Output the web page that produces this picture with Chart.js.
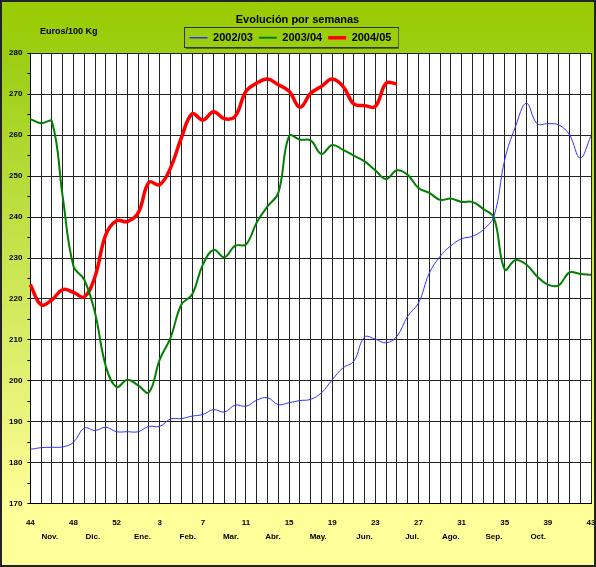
<!DOCTYPE html>
<html>
<head>
<meta charset="utf-8">
<script src="https://cdn.jsdelivr.net/npm/chart.js@4.4.1/dist/chart.umd.min.js"></script>
<style>
  html, body { margin: 0; padding: 0; background: #fff; }
  #wrap { width: 596px; height: 567px; }
</style>
</head>
<body>
<div id="wrap"><canvas id="chart" width="596" height="567"></canvas></div>
<script>
// semanas 44..53 y 1..43
const weekLabels = ['44','45','46','47','48','49','50','51','52','53',
  '1','2','3','4','5','6','7','8','9','10','11','12','13','14','15','16','17','18','19','20',
  '21','22','23','24','25','26','27','28','29','30','31','32','33','34','35','36','37','38','39','40',
  '41','42','43'];

const monthLabels = ['Nov.','Dic.','Ene.','Feb.','Mar.','Abr.','May.','Jun.','Jul.','Ago.','Sep.','Oct.'];
// where each month name sits, in week-index units
const monthTicks = [1.8, 5.8, 10.4, 14.6, 18.6, 22.5, 26.7, 31, 35.4, 39, 43, 47.1];

const serie0203 = [183.3, 183.7, 183.8, 183.9, 185.0, 188.5, 187.9, 188.7, 187.6, 187.6,
  187.6, 188.9, 188.9, 190.7, 190.8, 191.4, 191.8, 193.0, 192.4, 194.1,
  193.8, 195.3, 195.9, 194.2, 194.7, 195.2, 195.5, 197.1, 200.3, 203.2,
  204.8, 210.7, 210.2, 209.3, 210.9, 215.8, 219.0, 226.3, 230.4, 233.0,
  234.7, 235.3, 236.9, 240.2, 254.0, 262.1, 267.8, 262.8, 262.8, 262.5,
  260.1, 254.4, 259.8];

const serie0304 = [263.9, 262.9, 263.3, 245.0, 228.0, 224.7, 216.6, 203.6, 198.5, 200.3,
  198.9, 197.2, 205.2, 210.5, 218.6, 221.1, 228.4, 232.0, 230.2, 233.0,
  233.3, 238.7, 242.6, 245.9, 259.8, 258.9, 258.7, 255.4, 257.6, 256.4,
  255.0, 253.6, 251.4, 249.3, 251.4, 250.3, 247.1, 245.9, 244.2, 244.5,
  243.7, 243.7, 242.0, 239.8, 227.2, 229.5, 228.4, 225.5, 223.5, 223.3,
  226.5, 226.1, 225.9];

const serie0405 = [223.5, 218.6, 219.8, 222.3, 221.6, 220.5, 225.5, 235.7, 239.1, 238.9,
  241.0, 248.5, 247.9, 252.0, 259.3, 265.2, 263.7, 265.7, 264.0, 264.6,
  270.7, 272.7, 273.7, 272.3, 270.7, 266.8, 270.2, 271.9, 273.7, 271.9,
  267.6, 267.2, 267.0, 272.7, 272.5];

const FONT = 'Liberation Sans, Arial, sans-serif';

const fondo = {
  id: 'fondo',
  afterLayout(chart) {
    // la leyenda va un poco a la izquierda del centro
    const lg = chart.legend;
    lg.left -= 7;
    lg.right -= 7;
    lg.legendHitBoxes.forEach(b => { b.left -= 7; });
  },
  beforeDraw(chart) {
    const { ctx, width, height, chartArea } = chart;
    ctx.save();
    const g = ctx.createLinearGradient(0, 0, 0, height);
    g.addColorStop(0, '#99CC00');
    g.addColorStop(0.1, '#9CCE14');
    g.addColorStop(0.9, '#FFFF99');
    g.addColorStop(1, '#FFFF99');
    ctx.fillStyle = g;
    ctx.fillRect(0, 0, width, height);
    ctx.fillStyle = '#fff';
    ctx.fillRect(chartArea.left, chartArea.top, chartArea.right - chartArea.left, chartArea.bottom - chartArea.top);
    ctx.restore();
  },
  afterDraw(chart) {
    const { ctx, width, height } = chart;
    ctx.save();
    // marco exterior
    ctx.strokeStyle = '#222';
    ctx.lineWidth = 2;
    ctx.strokeRect(1, 1, width - 2, height - 2);
    // marco de la leyenda
    const boxes = chart.legend.legendHitBoxes;
    if (boxes && boxes.length) {
      const l = Math.min(...boxes.map(b => b.left)) - 6;
      const r = Math.max(...boxes.map(b => b.left + b.width)) + 6;
      const t = Math.min(...boxes.map(b => b.top)) - 5;
      const bt = Math.max(...boxes.map(b => b.top + b.height)) + 4;
      ctx.lineWidth = 1;
      ctx.strokeStyle = '#333';
      ctx.strokeRect(Math.round(l) + 0.5, Math.round(t) + 0.5, Math.round(r - l), Math.round(bt - t));
      ctx.strokeStyle = '#556b00';
      ctx.beginPath();
      ctx.moveTo(Math.round(l) + 2, Math.round(bt) + 1.5);
      ctx.lineTo(Math.round(r) + 1.5, Math.round(bt) + 1.5);
      ctx.lineTo(Math.round(r) + 1.5, Math.round(t) + 2);
      ctx.stroke();
    }
    // unidad
    ctx.fillStyle = '#000';
    ctx.font = 'bold 9px ' + FONT;
    ctx.textAlign = 'left';
    ctx.textBaseline = 'middle';
    ctx.fillText('Euros/100 Kg', 40, 32);
    ctx.restore();
  }
};

new Chart(document.getElementById('chart'), {
  type: 'line',
  data: {
    labels: weekLabels,
    datasets: [
      { label: '2002/03', data: serie0203, borderColor: '#3333FF', backgroundColor: '#3333FF', borderWidth: 1, pointRadius: 0, tension: 0.4, fill: false },
      { label: '2003/04', data: serie0304, borderColor: '#008000', backgroundColor: '#008000', borderWidth: 2, pointRadius: 0, tension: 0.4, fill: false },
      { label: '2004/05', data: serie0405, borderColor: '#FF0000', backgroundColor: '#FF0000', borderWidth: 3.5, pointRadius: 0, tension: 0.4, fill: false }
    ]
  },
  options: {
    responsive: false,
    animation: false,
    layout: { padding: { left: 4, right: 5, top: 3, bottom: 20 } },
    plugins: {
      title: {
        display: true,
        text: 'Evolución por semanas',
        color: '#000',
        font: { family: FONT, size: 11, weight: 'bold' },
        padding: { top: 10, bottom: 0 }
      },
      legend: {
        display: true,
        labels: {
          color: '#000',
          font: { family: FONT, size: 11, weight: 'bold' },
          usePointStyle: true,
          pointStyle: 'line',
          pointStyleWidth: 18,
          padding: 6,
          generateLabels: chart => Chart.defaults.plugins.legend.labels.generateLabels(chart)
            .map(item => Object.assign(item, { lineWidth: Math.max(item.lineWidth, 1.5) }))
        }
      },
      tooltip: { enabled: false }
    },
    scales: {
      x: {
        type: 'category',
        offset: false,
        weight: 0,
        grid: { color: '#222', lineWidth: 1, drawTicks: true, tickLength: 14, tickColor: 'rgba(0,0,0,0)' },
        border: { color: '#000' },
        ticks: {
          autoSkip: false,
          maxRotation: 0,
          padding: 0,
          color: '#000',
          font: { family: FONT, size: 8, weight: 'bold' },
          callback: (v, i) => (i % 4 === 0 ? weekLabels[i] : '')
        }
      },
      meses: {
        type: 'linear',
        position: 'bottom',
        weight: 1,
        min: 0,
        max: 52,
        grid: { display: false, drawTicks: false },
        border: { display: false },
        afterBuildTicks: axis => { axis.ticks = monthTicks.map(v => ({ value: v })); },
        ticks: {
          autoSkip: false,
          maxRotation: 0,
          padding: 5,
          color: '#000',
          font: { family: FONT, size: 8, weight: 'bold' },
          callback: (v, i) => monthLabels[i]
        }
      },
      y: {
        min: 170,
        max: 280,
        grid: {
          color: c => (c.tick && c.tick.value % 10 === 0 ? '#222' : 'rgba(0,0,0,0)'),
          tickColor: '#000',
          tickLength: 3
        },
        border: { color: '#000' },
        ticks: {
          stepSize: 5,
          padding: 5,
          color: '#000',
          font: { family: FONT, size: 8, weight: 'bold' },
          callback: v => (v % 10 === 0 ? v : '')
        }
      }
    }
  },
  plugins: [fondo]
});
</script>
</body>
</html>
